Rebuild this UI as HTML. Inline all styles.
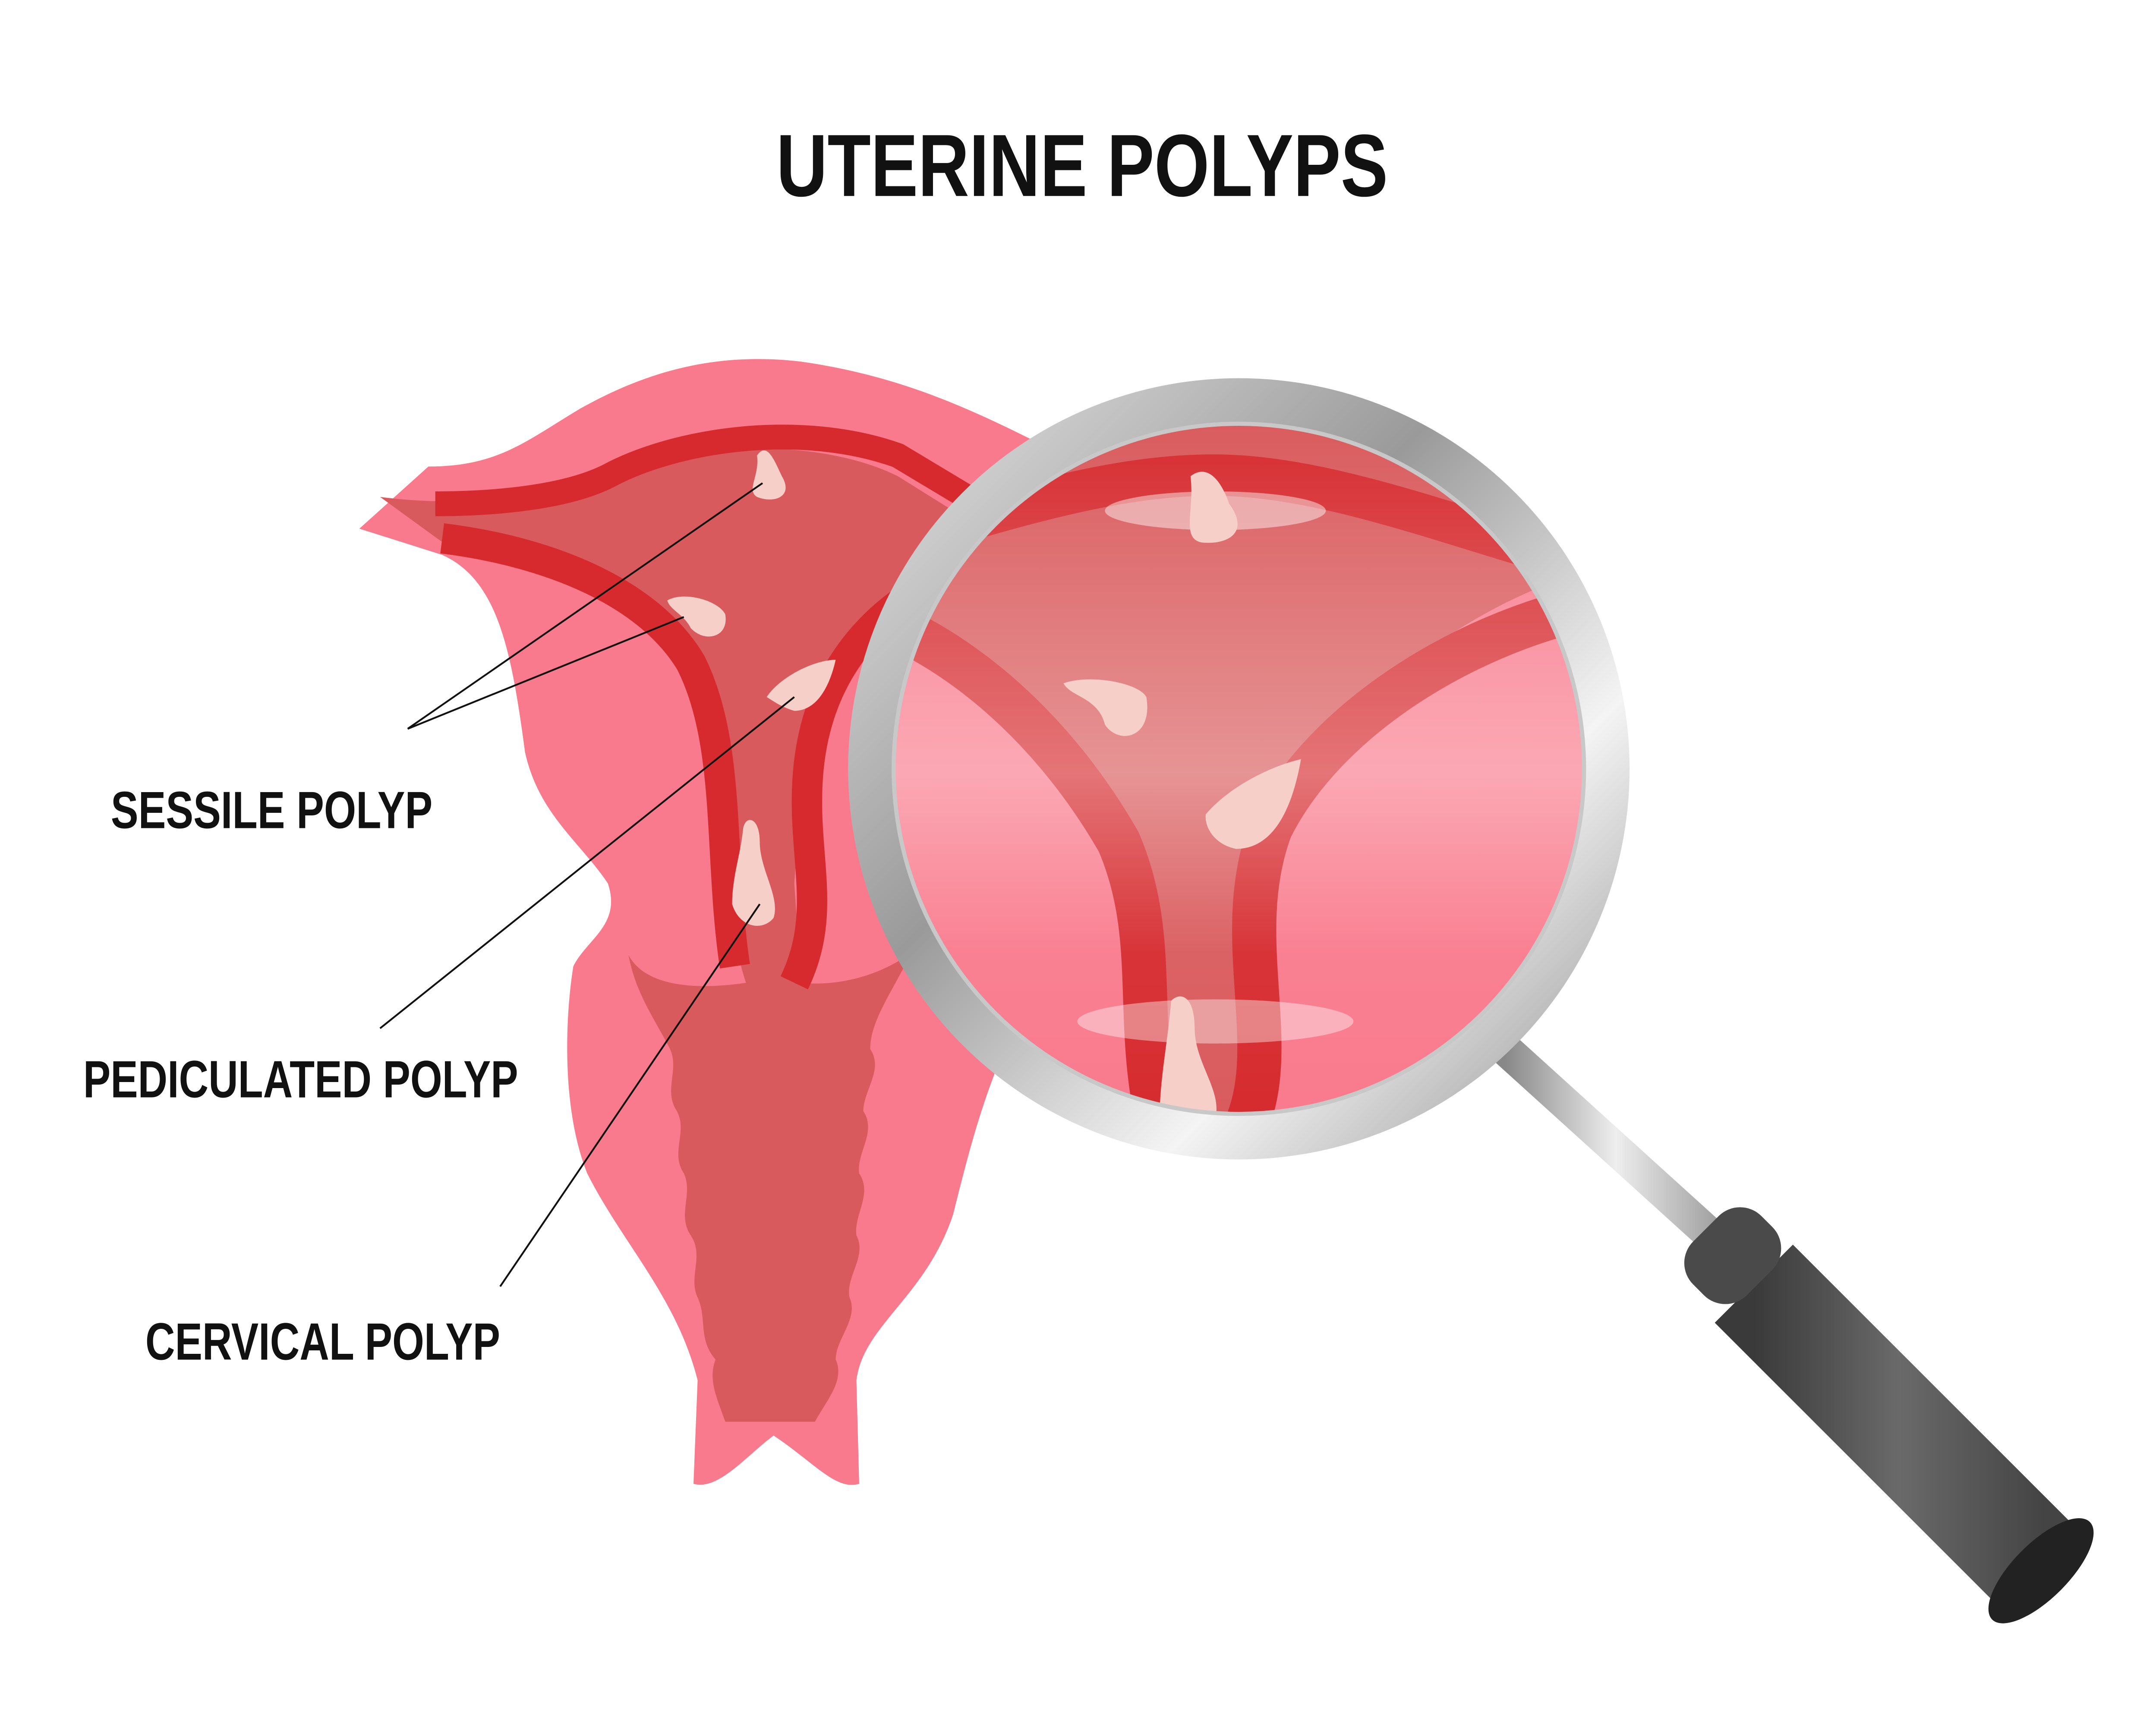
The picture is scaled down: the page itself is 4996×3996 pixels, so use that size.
<!DOCTYPE html>
<html><head><style>
html,body{margin:0;padding:0;background:#fff;}
svg{display:block;}
</style></head><body>
<svg width="4996" height="3996" viewBox="0 0 1561 1249" xmlns="http://www.w3.org/2000/svg">
<defs>
<linearGradient id="ring" x1="0" y1="0" x2="1" y2="1">
<stop offset="0" stop-color="#e8e8e8"/><stop offset="0.4" stop-color="#9a9a9a"/><stop offset="0.7" stop-color="#f4f4f4"/><stop offset="1" stop-color="#8a8a8a"/>
</linearGradient>
<linearGradient id="shaft" x1="0" y1="0" x2="1" y2="0">
<stop offset="0" stop-color="#888"/><stop offset="0.5" stop-color="#eee"/><stop offset="1" stop-color="#999"/>
</linearGradient>
<linearGradient id="grip" x1="0" y1="0" x2="1" y2="0">
<stop offset="0" stop-color="#3a3a3a"/><stop offset="0.5" stop-color="#6a6a6a"/><stop offset="1" stop-color="#444"/>
</linearGradient>
<linearGradient id="glass" x1="0" y1="0" x2="0" y2="1">
<stop offset="0" stop-color="#fff" stop-opacity="0"/><stop offset="0.5" stop-color="#fff" stop-opacity="0.35"/><stop offset="0.75" stop-color="#fff" stop-opacity="0.05"/><stop offset="1" stop-color="#fff" stop-opacity="0"/>
</linearGradient>
<clipPath id="lens"><circle cx="897" cy="557" r="250"/></clipPath>
</defs>

<text x="562" y="142" textLength="443" lengthAdjust="spacingAndGlyphs" font-family="Liberation Sans, sans-serif" font-weight="bold" font-size="64" fill="#111">UTERINE POLYPS</text>

<path d="M260,383 L310,338 C360,338 380,320 420,296 C470,268 520,255 580,262 C650,272 700,295 750,320 L760,700 C720,760 705,820 690,880 C670,940 625,960 620,1000 L622,1075 C605,1080 590,1060 560,1040 C540,1055 520,1080 502,1075 L505,1000 C490,940 450,900 425,850 C405,800 410,730 415,700 C425,680 450,670 440,640 C420,610 390,590 380,545 C370,470 360,420 320,402 Z" fill="#f97a8c"/>

<path d="M275,360 C350,370 420,355 470,335 C520,320 600,320 650,345 L690,370 L640,440 C600,500 580,560 575,640 L580,712 L540,712 C520,650 520,560 500,500 C470,440 400,405 330,400 Z" fill="#d95a5c"/>
<path d="M455,692 C470,720 520,715 540,712 L580,712 C610,715 640,705 660,690 C645,720 630,740 630,760 C640,775 625,790 625,805 C635,820 620,835 622,850 C632,865 618,880 620,895 C628,910 612,925 615,940 C622,955 605,970 605,985 C612,1000 598,1015 590,1030 L525,1030 C520,1015 512,1000 518,985 C505,970 512,955 505,940 C498,925 510,910 500,895 C490,880 502,865 495,850 C485,835 498,820 490,805 C480,790 492,775 485,760 C475,740 460,720 455,692 Z" fill="#d95a5c"/>

<path d="M315,365 C360,365 410,360 440,345 C490,318 580,305 650,330 L700,360" stroke="#d62a2e" stroke-width="18" fill="none"/>
<path d="M320,390 C400,400 470,430 500,480 C530,540 520,620 532,700" stroke="#d62a2e" stroke-width="22" fill="none"/>
<path d="M680,420 C620,450 590,500 585,560 C580,620 600,660 575,712" stroke="#d62a2e" stroke-width="22" fill="none"/>

<path d="M548,330 C555,320 560,332 566,345 C575,360 560,365 548,360 C540,355 550,345 548,330Z" fill="#f6d0c8"/>
<path d="M483,435 C495,428 520,435 525,445 C528,462 510,466 500,455 C495,445 485,442 483,435Z" fill="#f6d0c8"/>
<path d="M555,505 C565,490 590,478 605,478 C600,500 590,515 575,515 C565,512 560,508 555,505Z" fill="#f6d0c8"/>
<path d="M538,600 C540,590 550,592 550,610 C550,630 565,650 560,665 C552,675 535,672 530,655 C530,635 536,620 538,600Z" fill="#f6d0c8"/>

<g stroke="#111" stroke-width="1.3">
<line x1="295" y1="528" x2="552" y2="350"/>
<line x1="295" y1="528" x2="495" y2="447"/>
<line x1="275" y1="745" x2="575" y2="505"/>
<line x1="362" y1="932" x2="550" y2="655"/>
</g>
<g font-family="Liberation Sans, sans-serif" font-weight="bold" font-size="38" fill="#111">
<text x="80" y="600" textLength="233" lengthAdjust="spacingAndGlyphs">SESSILE POLYP</text>
<text x="60" y="795" textLength="315" lengthAdjust="spacingAndGlyphs">PEDICULATED POLYP</text>
<text x="105" y="985" textLength="257" lengthAdjust="spacingAndGlyphs">CERVICAL POLYP</text>
</g>

<line x1="1090" y1="760" x2="1250" y2="905" stroke="url(#shaft)" stroke-width="24"/>
<line x1="1270" y1="930" x2="1480" y2="1140" stroke="url(#grip)" stroke-width="80" stroke-linecap="butt"/>
<g transform="rotate(45 1260 915)">
<rect x="1225" y="880" width="55" height="70" rx="22" fill="#4a4a4a"/>
</g>
<ellipse cx="1478" cy="1138" rx="50" ry="20" transform="rotate(-45 1478 1138)" fill="#222"/>

<circle cx="897" cy="557" r="283" fill="url(#ring)"/>
<g clip-path="url(#lens)">
<rect x="640" y="300" width="520" height="520" fill="#f97a8c"/>
<path d="M640,300 L1160,300 L1160,410 C1050,440 960,520 925,600 C900,680 910,760 895,820 L845,820 C830,760 830,680 800,610 C760,530 700,470 640,440 Z" fill="#d95a5c"/>
<path d="M690,380 C760,360 830,340 900,345 C970,350 1050,380 1120,400" stroke="#d62a2e" stroke-width="30" fill="none"/>
<path d="M640,450 C710,480 770,540 810,610 C840,680 820,740 840,820" stroke="#d62a2e" stroke-width="32" fill="none"/>
<path d="M1150,440 C1060,460 960,520 920,600 C890,680 930,760 900,820" stroke="#d62a2e" stroke-width="32" fill="none"/>
<rect x="640" y="300" width="520" height="520" fill="url(#glass)"/>
<ellipse cx="880" cy="370" rx="80" ry="14" fill="#fff" opacity="0.45"/>
<ellipse cx="880" cy="740" rx="100" ry="16" fill="#fff" opacity="0.4"/>
<path d="M862,345 C875,335 885,350 890,365 C905,385 890,395 870,393 C855,390 865,370 862,345Z" fill="#f6d0c8"/>
<path d="M770,495 C790,488 825,495 830,505 C835,535 810,540 800,525 C795,505 775,505 770,495Z" fill="#f6d0c8"/>
<path d="M873,590 C890,570 920,555 942,550 C935,590 920,615 895,615 C880,612 872,600 873,590Z" fill="#f6d0c8"/>
<path d="M848,725 C855,718 865,722 865,745 C865,770 885,790 880,810 L840,820 C838,790 845,760 848,725Z" fill="#f6d0c8"/>
</g>
<circle cx="897" cy="557" r="250" fill="none" stroke="#c8c8c8" stroke-width="3"/>
</svg>
</body></html>
